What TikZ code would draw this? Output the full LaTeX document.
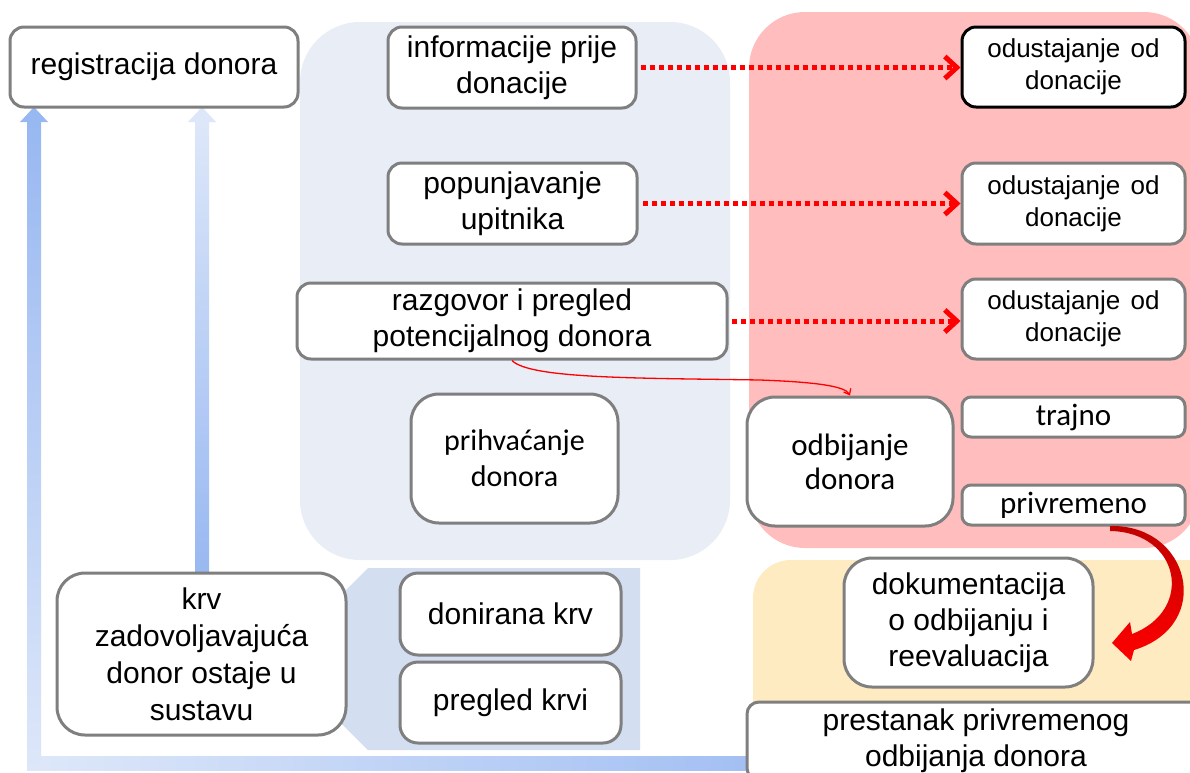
\documentclass[tikz,border=0pt]{standalone}
\usepackage{fontspec}
\setmainfont{Liberation Sans}
\newfontfamily\calib{Carlito}
\usetikzlibrary{arrows.meta,calc}
\definecolor{boxgray}{HTML}{7F7F7F}
\definecolor{panelblue}{HTML}{E9EEF6}
\definecolor{panelpink}{HTML}{FFBDBD}
\definecolor{panelyellow}{HTML}{FEEBC1}
\definecolor{panelsteel}{HTML}{D3DEF0}
\definecolor{arrdark}{HTML}{98B8F1}
\definecolor{arrlight}{HTML}{DDE7F9}
\definecolor{dotred}{HTML}{FF0000}
\definecolor{darkred}{HTML}{C00000}
\tikzset{
  box/.style={draw=boxgray, line width=3pt, fill=white, rounded corners=14pt,
    inner sep=0pt, align=center, font=\fontsize{30}{36}\selectfont},
  bigbox/.style={box, rounded corners=28pt},
  smallbox/.style={box, rounded corners=9pt, font=\calib\fontsize{31}{34}\selectfont},
  odubox/.style={box, font=\fontsize{26}{32}\selectfont},
  reddot/.style={draw=dotred, line width=5pt, dash pattern=on 5pt off 4pt,
    -{Straight Barb[length=12pt,width=22pt]}},
  thinred/.style={draw=dotred, line width=1.3pt, -{Straight Barb[length=5pt,width=8pt]}}
}
\begin{document}
\begin{tikzpicture}[x=1pt,y=-1pt]
\useasboundingbox (0,0) rectangle (1190,772);
\clip (0,0) rectangle (1190,772);
\fill[white] (0,0) rectangle (1190,772);

% panels
\fill[panelblue, rounded corners=60pt] (300,22) rectangle (730,560);
\fill[panelpink, rounded corners=56pt] (749,12) rectangle (1200,548);
\fill[panelyellow, rounded corners=38pt] (753,560) rectangle (1240,740);
\fill[panelsteel] (335,601) -- (368,568) -- (640,568) -- (640,750) -- (368,750) -- (335,717) -- cycle;

% blue arrows (behind boxes)
\shade[left color=arrlight, right color=arrdark!85!arrlight] (41,756) rectangle (760,770);
\shade[top color=arrdark, bottom color=arrlight] (27,122) rectangle (41,770);
\fill[arrdark] (20,122) -- (34,107) -- (48,122) -- cycle;
\shade[top color=arrlight, bottom color=arrdark] (195,122) rectangle (209,575);
\fill[arrlight] (188,122) -- (202,107) -- (216,122) -- cycle;

% nodes
\node[box, minimum width=288pt, minimum height=80pt] (reg) at (154,67) {registracija donora};
\node[box, minimum width=248pt, minimum height=81pt] (info) at (512,67.5) {informacije prije\\donacije};
\node[box, minimum width=249pt, minimum height=81pt] (popun) at (512.5,203.5) {popunjavanje\\upitnika};
\node[box, minimum width=430pt, minimum height=76pt] (razg) at (512,321) {razgovor i pregled\\potencijalnog donora};
\node[bigbox, font=\calib\fontsize{30}{36}\selectfont, minimum width=207pt, minimum height=129pt] (prihv) at (514.5,458.5) {prihvaćanje\\donora};

\node[odubox, draw=black, minimum width=223pt, minimum height=80pt] (odu1) at (1073.5,67) {odustajanje\hspace{0.4em}od\\donacije};
\node[odubox, minimum width=223pt, minimum height=81pt] (odu2) at (1073.5,203.5) {odustajanje\hspace{0.4em}od\\donacije};
\node[odubox, minimum width=223pt, minimum height=80pt] (odu3) at (1073.5,319) {odustajanje\hspace{0.4em}od\\donacije};

\node[bigbox, font=\calib\fontsize{31}{34}\selectfont, minimum width=206pt, minimum height=129pt] (odb) at (850,461.5) {odbijanje\\donora};
\node[smallbox, minimum width=223pt, minimum height=40pt] (trajno) at (1073.5,417) {trajno};
\node[smallbox, minimum width=223pt, minimum height=40pt] (privr) at (1073.5,505) {privremeno};

\node[bigbox, minimum width=249pt, minimum height=129pt] (dok) at (968.5,622.5) {dokumentacija\\o odbijanju i\\reevaluacija};
\node[box, rounded corners=12pt, minimum width=458pt, minimum height=78pt] (prest) at (976,741) {prestanak privremenog\\odbijanja donora};

\node[bigbox, font=\fontsize{30}{37}\selectfont, minimum width=289pt, minimum height=162pt] (krv) at (201.5,654) {krv\\zadovoljavajuća\\donor ostaje u\\sustavu};
\node[box, rounded corners=18pt, minimum width=221pt, minimum height=82pt] (don) at (510.5,614) {donirana krv};
\node[box, rounded corners=18pt, minimum width=221pt, minimum height=81pt] (preg) at (510.5,702.5) {pregled krvi};

% red dotted connectors
\draw[reddot] ($(info.east)+(3,0)$) -- (info.east -| odu1.west);
\draw[reddot] ($(popun.east)+(4,0)$) -- (popun.east -| odu2.west);
\draw[reddot] ($(razg.east)+(3,0)$) -- (razg.east -| odu3.west);

% thin red curve
\draw[thinred] (razg.south) .. controls (530,379) and (640,378) .. (760,380)
  .. controls (815,382) and (845,386) .. (odb.north);

% big curved red arrow from privremeno to dokumentacija
\shade[top color=darkred, bottom color=dotred]
  (1110,526) .. controls (1190,524) and (1215,625) .. (1134,650)
  -- (1131,661) -- (1112,643) -- (1130,622) -- (1132,634)
  .. controls (1195,610) and (1180,532) .. (1110,531) -- cycle;
\end{tikzpicture}
\end{document}
